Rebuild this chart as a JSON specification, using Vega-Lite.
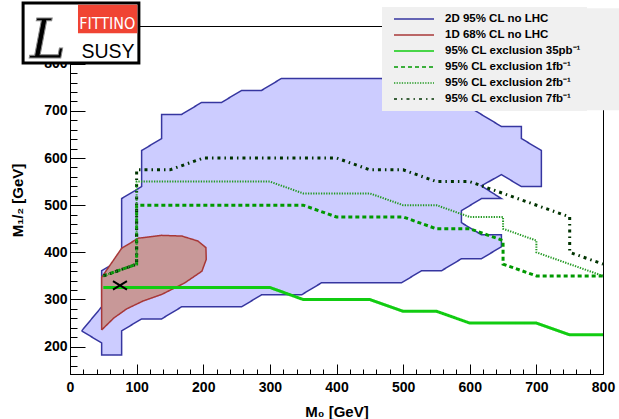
{
  "$schema": "https://vega.github.io/schema/vega-lite/v6.json",
  "width": 533,
  "height": 348,
  "autosize": {"type": "none"},
  "padding": {"left": 70, "top": 26, "right": 16, "bottom": 45},
  "background": "white",
  "config": {
    "view": {"stroke": "black", "strokeWidth": 1},
    "font": "Liberation Sans",
    "axis": {
      "grid": false,
      "domainColor": "black",
      "tickColor": "black",
      "labelColor": "black",
      "titleColor": "black",
      "labelFont": "Liberation Sans",
      "titleFont": "Liberation Sans",
      "labelFontWeight": "bold",
      "titleFontWeight": "bold",
      "labelFontSize": 14,
      "titleFontSize": 15,
      "domainWidth": 1,
      "tickWidth": 1
    }
  },
  "resolve": {"axis": {"x": "independent", "y": "independent"}},
  "datasets": {
    "contours": [
      {"series": "2D 95% CL no LHC", "order": 1, "m0": 17.5, "m12": 233.4},
      {"series": "2D 95% CL no LHC", "order": 2, "m0": 47.5, "m12": 284.4},
      {"series": "2D 95% CL no LHC", "order": 3, "m0": 47.5, "m12": 360.9},
      {"series": "2D 95% CL no LHC", "order": 4, "m0": 77.5, "m12": 386.4},
      {"series": "2D 95% CL no LHC", "order": 5, "m0": 77.5, "m12": 514},
      {"series": "2D 95% CL no LHC", "order": 6, "m0": 107.5, "m12": 539.4},
      {"series": "2D 95% CL no LHC", "order": 7, "m0": 107.5, "m12": 615.9},
      {"series": "2D 95% CL no LHC", "order": 8, "m0": 137.5, "m12": 641.4},
      {"series": "2D 95% CL no LHC", "order": 9, "m0": 137.5, "m12": 692.4},
      {"series": "2D 95% CL no LHC", "order": 10, "m0": 167.5, "m12": 692.4},
      {"series": "2D 95% CL no LHC", "order": 11, "m0": 197.5, "m12": 717.9},
      {"series": "2D 95% CL no LHC", "order": 12, "m0": 227.5, "m12": 717.9},
      {"series": "2D 95% CL no LHC", "order": 13, "m0": 257.5, "m12": 743.4},
      {"series": "2D 95% CL no LHC", "order": 14, "m0": 287.5, "m12": 743.4},
      {"series": "2D 95% CL no LHC", "order": 15, "m0": 317.5, "m12": 768.9},
      {"series": "2D 95% CL no LHC", "order": 16, "m0": 467.5, "m12": 768.9},
      {"series": "2D 95% CL no LHC", "order": 17, "m0": 497.5, "m12": 743.4},
      {"series": "2D 95% CL no LHC", "order": 18, "m0": 557.5, "m12": 743.4},
      {"series": "2D 95% CL no LHC", "order": 19, "m0": 587.5, "m12": 717.9},
      {"series": "2D 95% CL no LHC", "order": 20, "m0": 647.5, "m12": 666.9},
      {"series": "2D 95% CL no LHC", "order": 21, "m0": 677.5, "m12": 666.9},
      {"series": "2D 95% CL no LHC", "order": 22, "m0": 677.5, "m12": 641.4},
      {"series": "2D 95% CL no LHC", "order": 23, "m0": 707.5, "m12": 615.9},
      {"series": "2D 95% CL no LHC", "order": 24, "m0": 707.5, "m12": 539.4},
      {"series": "2D 95% CL no LHC", "order": 25, "m0": 677.5, "m12": 539.4},
      {"series": "2D 95% CL no LHC", "order": 26, "m0": 647.5, "m12": 564.9},
      {"series": "2D 95% CL no LHC", "order": 27, "m0": 617.5, "m12": 541},
      {"series": "2D 95% CL no LHC", "order": 28, "m0": 647.5, "m12": 514},
      {"series": "2D 95% CL no LHC", "order": 29, "m0": 617.5, "m12": 514},
      {"series": "2D 95% CL no LHC", "order": 30, "m0": 587.5, "m12": 488.4},
      {"series": "2D 95% CL no LHC", "order": 31, "m0": 587.5, "m12": 462.9},
      {"series": "2D 95% CL no LHC", "order": 32, "m0": 617.5, "m12": 437.4},
      {"series": "2D 95% CL no LHC", "order": 33, "m0": 647.5, "m12": 437.4},
      {"series": "2D 95% CL no LHC", "order": 34, "m0": 647.5, "m12": 411.9},
      {"series": "2D 95% CL no LHC", "order": 35, "m0": 617.5, "m12": 386.4},
      {"series": "2D 95% CL no LHC", "order": 36, "m0": 587.5, "m12": 386.4},
      {"series": "2D 95% CL no LHC", "order": 37, "m0": 557.5, "m12": 360.9},
      {"series": "2D 95% CL no LHC", "order": 38, "m0": 527.5, "m12": 360.9},
      {"series": "2D 95% CL no LHC", "order": 39, "m0": 497.5, "m12": 335.4},
      {"series": "2D 95% CL no LHC", "order": 40, "m0": 377.5, "m12": 335.4},
      {"series": "2D 95% CL no LHC", "order": 41, "m0": 347.5, "m12": 309.9},
      {"series": "2D 95% CL no LHC", "order": 42, "m0": 287.5, "m12": 309.9},
      {"series": "2D 95% CL no LHC", "order": 43, "m0": 257.5, "m12": 284.4},
      {"series": "2D 95% CL no LHC", "order": 44, "m0": 167.5, "m12": 284.4},
      {"series": "2D 95% CL no LHC", "order": 45, "m0": 137.5, "m12": 258.9},
      {"series": "2D 95% CL no LHC", "order": 46, "m0": 107.5, "m12": 258.9},
      {"series": "2D 95% CL no LHC", "order": 47, "m0": 77.5, "m12": 233.4},
      {"series": "2D 95% CL no LHC", "order": 48, "m0": 77.5, "m12": 182.4},
      {"series": "2D 95% CL no LHC", "order": 49, "m0": 47.5, "m12": 182.4},
      {"series": "2D 95% CL no LHC", "order": 50, "m0": 47.5, "m12": 207.9},
      {"series": "2D 95% CL no LHC", "order": 51, "m0": 17.5, "m12": 233.4},
      {"series": "1D 68% CL no LHC", "order": 1, "m0": 47.5, "m12": 235.4},
      {"series": "1D 68% CL no LHC", "order": 2, "m0": 47.5, "m12": 347},
      {"series": "1D 68% CL no LHC", "order": 3, "m0": 77.5, "m12": 408.5},
      {"series": "1D 68% CL no LHC", "order": 4, "m0": 102.5, "m12": 430},
      {"series": "1D 68% CL no LHC", "order": 5, "m0": 137.5, "m12": 436},
      {"series": "1D 68% CL no LHC", "order": 6, "m0": 168, "m12": 434.5},
      {"series": "1D 68% CL no LHC", "order": 7, "m0": 192, "m12": 424},
      {"series": "1D 68% CL no LHC", "order": 8, "m0": 204, "m12": 410},
      {"series": "1D 68% CL no LHC", "order": 9, "m0": 204.5, "m12": 385},
      {"series": "1D 68% CL no LHC", "order": 10, "m0": 198, "m12": 360},
      {"series": "1D 68% CL no LHC", "order": 11, "m0": 172, "m12": 335},
      {"series": "1D 68% CL no LHC", "order": 12, "m0": 138, "m12": 311},
      {"series": "1D 68% CL no LHC", "order": 13, "m0": 110, "m12": 297},
      {"series": "1D 68% CL no LHC", "order": 14, "m0": 85, "m12": 280},
      {"series": "1D 68% CL no LHC", "order": 15, "m0": 66, "m12": 261},
      {"series": "1D 68% CL no LHC", "order": 16, "m0": 47.5, "m12": 235.4},
      {"series": "95% CL exclusion 35pb⁻¹", "order": 1, "m0": 50, "m12": 325.5},
      {"series": "95% CL exclusion 35pb⁻¹", "order": 2, "m0": 300, "m12": 325.5},
      {"series": "95% CL exclusion 35pb⁻¹", "order": 3, "m0": 350, "m12": 300},
      {"series": "95% CL exclusion 35pb⁻¹", "order": 4, "m0": 450, "m12": 300},
      {"series": "95% CL exclusion 35pb⁻¹", "order": 5, "m0": 500, "m12": 275},
      {"series": "95% CL exclusion 35pb⁻¹", "order": 6, "m0": 550, "m12": 275},
      {"series": "95% CL exclusion 35pb⁻¹", "order": 7, "m0": 600, "m12": 250},
      {"series": "95% CL exclusion 35pb⁻¹", "order": 8, "m0": 700, "m12": 250},
      {"series": "95% CL exclusion 35pb⁻¹", "order": 9, "m0": 750, "m12": 225},
      {"series": "95% CL exclusion 35pb⁻¹", "order": 10, "m0": 800, "m12": 225},
      {"series": "95% CL exclusion 1fb⁻¹", "order": 1, "m0": 50, "m12": 350},
      {"series": "95% CL exclusion 1fb⁻¹", "order": 2, "m0": 100, "m12": 375},
      {"series": "95% CL exclusion 1fb⁻¹", "order": 3, "m0": 100, "m12": 500},
      {"series": "95% CL exclusion 1fb⁻¹", "order": 4, "m0": 350, "m12": 500},
      {"series": "95% CL exclusion 1fb⁻¹", "order": 5, "m0": 400, "m12": 475},
      {"series": "95% CL exclusion 1fb⁻¹", "order": 6, "m0": 500, "m12": 475},
      {"series": "95% CL exclusion 1fb⁻¹", "order": 7, "m0": 550, "m12": 450},
      {"series": "95% CL exclusion 1fb⁻¹", "order": 8, "m0": 600, "m12": 450},
      {"series": "95% CL exclusion 1fb⁻¹", "order": 9, "m0": 650, "m12": 425},
      {"series": "95% CL exclusion 1fb⁻¹", "order": 10, "m0": 650, "m12": 375},
      {"series": "95% CL exclusion 1fb⁻¹", "order": 11, "m0": 700, "m12": 350},
      {"series": "95% CL exclusion 1fb⁻¹", "order": 12, "m0": 800, "m12": 350},
      {"series": "95% CL exclusion 2fb⁻¹", "order": 1, "m0": 50, "m12": 350},
      {"series": "95% CL exclusion 2fb⁻¹", "order": 2, "m0": 100, "m12": 375},
      {"series": "95% CL exclusion 2fb⁻¹", "order": 3, "m0": 100, "m12": 550},
      {"series": "95% CL exclusion 2fb⁻¹", "order": 4, "m0": 300, "m12": 550},
      {"series": "95% CL exclusion 2fb⁻¹", "order": 5, "m0": 350, "m12": 525},
      {"series": "95% CL exclusion 2fb⁻¹", "order": 6, "m0": 450, "m12": 525},
      {"series": "95% CL exclusion 2fb⁻¹", "order": 7, "m0": 500, "m12": 500},
      {"series": "95% CL exclusion 2fb⁻¹", "order": 8, "m0": 550, "m12": 500},
      {"series": "95% CL exclusion 2fb⁻¹", "order": 9, "m0": 600, "m12": 475},
      {"series": "95% CL exclusion 2fb⁻¹", "order": 10, "m0": 650, "m12": 475},
      {"series": "95% CL exclusion 2fb⁻¹", "order": 11, "m0": 650, "m12": 450},
      {"series": "95% CL exclusion 2fb⁻¹", "order": 12, "m0": 700, "m12": 425},
      {"series": "95% CL exclusion 2fb⁻¹", "order": 13, "m0": 700, "m12": 400},
      {"series": "95% CL exclusion 2fb⁻¹", "order": 14, "m0": 800, "m12": 350},
      {"series": "95% CL exclusion 7fb⁻¹", "order": 1, "m0": 50, "m12": 350},
      {"series": "95% CL exclusion 7fb⁻¹", "order": 2, "m0": 100, "m12": 375},
      {"series": "95% CL exclusion 7fb⁻¹", "order": 3, "m0": 100, "m12": 575},
      {"series": "95% CL exclusion 7fb⁻¹", "order": 4, "m0": 150, "m12": 575},
      {"series": "95% CL exclusion 7fb⁻¹", "order": 5, "m0": 200, "m12": 600},
      {"series": "95% CL exclusion 7fb⁻¹", "order": 6, "m0": 400, "m12": 600},
      {"series": "95% CL exclusion 7fb⁻¹", "order": 7, "m0": 450, "m12": 575},
      {"series": "95% CL exclusion 7fb⁻¹", "order": 8, "m0": 500, "m12": 575},
      {"series": "95% CL exclusion 7fb⁻¹", "order": 9, "m0": 550, "m12": 550},
      {"series": "95% CL exclusion 7fb⁻¹", "order": 10, "m0": 600, "m12": 550},
      {"series": "95% CL exclusion 7fb⁻¹", "order": 11, "m0": 750, "m12": 475},
      {"series": "95% CL exclusion 7fb⁻¹", "order": 12, "m0": 750, "m12": 400},
      {"series": "95% CL exclusion 7fb⁻¹", "order": 13, "m0": 800, "m12": 375}
    ],
    "best": [{"m0": 75, "m12": 330}]
  },
  "layer": [
    {
      "encoding": {
        "x": {
          "field": "m0",
          "type": "quantitative",
          "scale": {"domain": [0, 800], "nice": false, "zero": false},
          "axis": {
            "title": "M₀ [GeV]",
            "orient": "bottom",
            "values": [0,20,40,60,80,100,120,140,160,180,200,220,240,260,280,300,320,340,360,380,400,420,440,460,480,500,520,540,560,580,600,620,640,660,680,700,720,740,760,780,800],
            "labelExpr": "datum.value % 100 === 0 ? datum.label : ''",
            "tickSize": {"condition": {"test": "datum.value % 100 === 0", "value": -10}, "value": -5},
            "labelPadding": 16,
            "titlePadding": 5,
            "labelFlush": false,
            "labelOverlap": false
          }
        },
        "y": {
          "field": "m12",
          "type": "quantitative",
          "scale": {"domain": [142, 880], "nice": false, "zero": false},
          "axis": {
            "title": "M₁/₂ [GeV]",
            "orient": "left",
            "values": [160,180,200,220,240,260,280,300,320,340,360,380,400,420,440,460,480,500,520,540,560,580,600,620,640,660,680,700,720,740,760,780,800,820,840,860],
            "labelExpr": "datum.value % 100 === 0 ? datum.label : ''",
            "tickSize": {"condition": {"test": "datum.value % 100 === 0", "value": -15}, "value": -7},
            "labelPadding": 18,
            "titlePadding": 18,
            "labelFlush": false,
            "labelOverlap": false
          }
        }
      },
      "layer": [
        {
          "data": {"name": "contours"},
          "transform": [{"filter": "datum.series === '2D 95% CL no LHC'"}],
          "mark": {"type": "line", "fill": "#ccccff", "strokeWidth": 1.5, "strokeJoin": "miter"},
          "encoding": {
            "order": {"field": "order", "type": "quantitative"},
            "color": {"field": "series", "type": "nominal", "scale": {"domain": ["2D 95% CL no LHC", "1D 68% CL no LHC", "95% CL exclusion 35pb⁻¹", "95% CL exclusion 1fb⁻¹", "95% CL exclusion 2fb⁻¹", "95% CL exclusion 7fb⁻¹"], "range": ["#3636a0", "#a83838", "#11cc11", "#009900", "#229922", "#003300"]},
              "legend": {
                "orient": "none", "legendX": 312, "legendY": -19, "title": null,
                "padding": 6, "fillColor": "#f0f0f0", "strokeColor": null,
                "symbolType": "M0,0H8", "symbolSize": 100, "symbolFillColor": "transparent",
                "labelFont": "Liberation Sans", "labelFontWeight": "bold", "labelFontSize": 11.5, "labelColor": "black",
                "labelOffset": 45, "rowPadding": 4, "labelLimit": 300,
                "encode": {"symbols": {"update": {"strokeWidth": {"signal": "datum.value === '2D 95% CL no LHC' || datum.value === '1D 68% CL no LHC' ? 1.5 : (datum.value === '95% CL exclusion 2fb⁻¹' ? 2 : 3)"}}}}
              }
            },
            "strokeDash": {"field": "series", "type": "nominal", "scale": {"domain": ["2D 95% CL no LHC", "1D 68% CL no LHC", "95% CL exclusion 35pb⁻¹", "95% CL exclusion 1fb⁻¹", "95% CL exclusion 2fb⁻¹", "95% CL exclusion 7fb⁻¹"], "range": [[1, 0], [1, 0], [1, 0], [4, 3], [1.3, 1.3], [3, 4, 1.5, 4]]}, "legend": {"orient": "none", "legendX": 312, "legendY": -19, "title": null}}
          }
        },
        {
          "data": {"name": "contours"},
          "transform": [{"filter": "datum.series === '1D 68% CL no LHC'"}],
          "mark": {"type": "line", "fill": "#c89898", "strokeWidth": 1.5},
          "encoding": {
            "order": {"field": "order", "type": "quantitative"},
            "color": {"field": "series", "type": "nominal"},
            "strokeDash": {"field": "series", "type": "nominal"}
          }
        },
        {
          "data": {"name": "contours"},
          "transform": [{"filter": "datum.series === '95% CL exclusion 35pb⁻¹' || datum.series === '95% CL exclusion 1fb⁻¹'  || datum.series === '95% CL exclusion 7fb⁻¹'"}],
          "mark": {"type": "line", "strokeWidth": 3},
          "encoding": {
            "order": {"field": "order", "type": "quantitative"},
            "color": {"field": "series", "type": "nominal"},
            "strokeDash": {"field": "series", "type": "nominal"}
          }
        },
        {
          "data": {"name": "contours"},
          "transform": [{"filter": "datum.series === '95% CL exclusion 2fb⁻¹'"}],
          "mark": {"type": "line", "strokeWidth": 2},
          "encoding": {
            "order": {"field": "order", "type": "quantitative"},
            "color": {"field": "series", "type": "nominal"},
            "strokeDash": {"field": "series", "type": "nominal"}
          }
        },
        {
          "data": {"name": "best"},
          "mark": {"type": "point", "shape": "M-1,-0.6L1,0.6M-1,0.6L1,-0.6", "size": 196, "stroke": "black", "strokeWidth": 2, "filled": false, "opacity": 1}
        }
      ]
    },
    {
      "data": {"values": [{"k": "legendbox"}]},
      "mark": {"type": "rect", "fill": "#f0f0f0"},
      "encoding": {
        "x": {"datum": 468.3, "type": "quantitative", "axis": null},
        "x2": {"datum": 824},
        "y": {"datum": 917.6, "type": "quantitative", "axis": null},
        "y2": {"datum": 701.5}
      }
    },
    {
      "data": {"values": [{"k": "frame"}]},
      "mark": {"type": "rect", "fill": "white", "stroke": "black", "strokeWidth": 3},
      "encoding": {
        "x": {"datum": -70.4, "type": "quantitative", "axis": null},
        "x2": {"datum": 103.4},
        "y": {"datum": 928.8, "type": "quantitative", "axis": null},
        "y2": {"datum": 801.7}
      }
    },
    {
      "data": {"values": [{"k": "red"}]},
      "mark": {"type": "rect", "fill": "#f04433"},
      "encoding": {
        "x": {"datum": 12, "type": "quantitative", "axis": null},
        "x2": {"datum": 101},
        "y": {"datum": 925, "type": "quantitative", "axis": null},
        "y2": {"datum": 864.6}
      }
    },
    {
      "data": {"values": [{"t": "FITTINO"}]},
      "mark": {"type": "text", "font": "Liberation Sans Narrow, DejaVu Sans Condensed, sans-serif", "fontSize": 16, "fill": "white", "align": "center", "baseline": "alphabetic"},
      "encoding": {
        "x": {"datum": 56, "type": "quantitative", "axis": null},
        "y": {"datum": 874, "type": "quantitative", "axis": null},
        "text": {"field": "t"}
      }
    },
    {
      "data": {"values": [{"t": "SUSY"}]},
      "mark": {"type": "text", "font": "Liberation Sans", "fontSize": 19.5, "fill": "black", "align": "center", "baseline": "alphabetic"},
      "encoding": {
        "x": {"datum": 57, "type": "quantitative", "axis": null},
        "y": {"datum": 811.5, "type": "quantitative", "axis": null},
        "text": {"field": "t"}
      }
    },
    {
      "data": {"values": [{"t": "L"}]},
      "mark": {"type": "text", "font": "DejaVu Serif", "fontStyle": "italic", "fontSize": 54, "fill": "black", "stroke": "#888888", "strokeWidth": 1, "align": "center", "baseline": "alphabetic"},
      "encoding": {
        "x": {"datum": -33, "type": "quantitative", "axis": null},
        "y": {"datum": 812, "type": "quantitative", "axis": null},
        "text": {"field": "t"}
      }
    }
  ]
}
